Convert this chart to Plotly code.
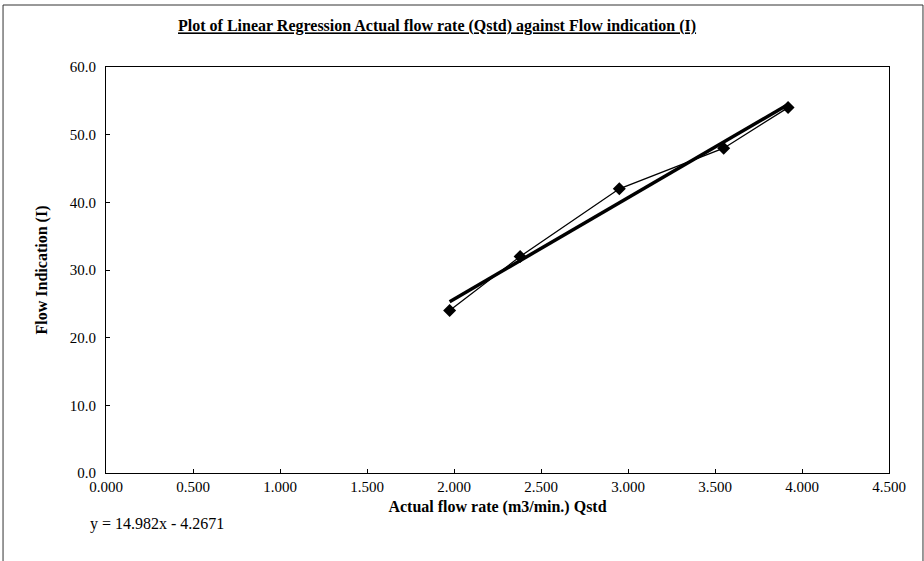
import plotly.graph_objects as go

# Data
flow_rate = [1.975, 2.38, 2.95, 3.55, 3.92]      # Actual flow rate (m3/min.) Qstd
flow_indication = [24.0, 32.0, 42.0, 48.0, 54.0]  # Flow Indication (I)

# Trendline coefficients as printed on the chart
slope = 14.982
intercept = -4.2671
equation_text = "y = 14.982x - 4.2671"

x_ticks = [0.0, 0.5, 1.0, 1.5, 2.0, 2.5, 3.0, 3.5, 4.0, 4.5]
y_ticks = [0, 10, 20, 30, 40, 50, 60]

trend_x = [min(flow_rate), max(flow_rate)]
trend_y = [slope * v + intercept for v in trend_x]

FONT = "Liberation Serif, Times New Roman, serif"

fig = go.Figure()
fig.add_trace(go.Scatter(
    x=trend_x, y=trend_y, mode="lines",
    line=dict(color="black", width=3.5), showlegend=False, hoverinfo="skip"))
fig.add_trace(go.Scatter(
    x=flow_rate, y=flow_indication, mode="lines+markers",
    line=dict(color="black", width=1.3),
    marker=dict(symbol="diamond", size=10, color="black"),
    showlegend=False))

fig.update_layout(
    width=924, height=561,
    margin=dict(l=106, r=35, t=67, b=88),
    paper_bgcolor="white", plot_bgcolor="white",
    font=dict(family=FONT, size=15, color="black"),
    title=dict(
        text="<b><u>Plot of Linear Regression Actual flow rate (Qstd) against Flow indication (I)</u></b>",
        x=0.473, xanchor="center", y=0.954, yanchor="middle",
        font=dict(family=FONT, size=16, color="black")),
    xaxis=dict(
        range=[0, 4.5], tickvals=x_ticks,
        ticktext=[f"{v:.3f}" for v in x_ticks],
        showgrid=False, zeroline=False,
        showline=True, linecolor="black", linewidth=1.2, mirror=True,
        ticks="inside", ticklen=4, tickcolor="black",
        tickfont=dict(family=FONT, size=15),
        title=dict(text="<b>Actual flow rate (m3/min.) Qstd</b>", standoff=6,
                   font=dict(family=FONT, size=16))),
    yaxis=dict(
        range=[0, 60], tickvals=y_ticks,
        ticktext=[f"{v:.1f}" for v in y_ticks],
        showgrid=False, zeroline=False,
        showline=True, linecolor="black", linewidth=1.2, mirror=True,
        ticks="inside", ticklen=4, tickcolor="black",
        ticklabelstandoff=6,
        tickfont=dict(family=FONT, size=15),
        title=dict(text="<b>Flow Indication (I)</b>", standoff=18,
                   font=dict(family=FONT, size=16))),
    annotations=[dict(
        text=equation_text, xref="paper", yref="paper",
        x=-0.023, y=-0.125, xanchor="left", yanchor="middle",
        showarrow=False, font=dict(family=FONT, size=16, color="black"))],
    shapes=[dict(
        type="rect", xref="paper", yref="paper",
        x0=-0.1315, x1=1.0434, y0=-0.25, y1=1.1527,
        line=dict(color="#333333", width=1), layer="below")],
)

fig.write_html("out.html", config={"displayModeBar": False},
               post_script="document.body.style.margin='0px';")
